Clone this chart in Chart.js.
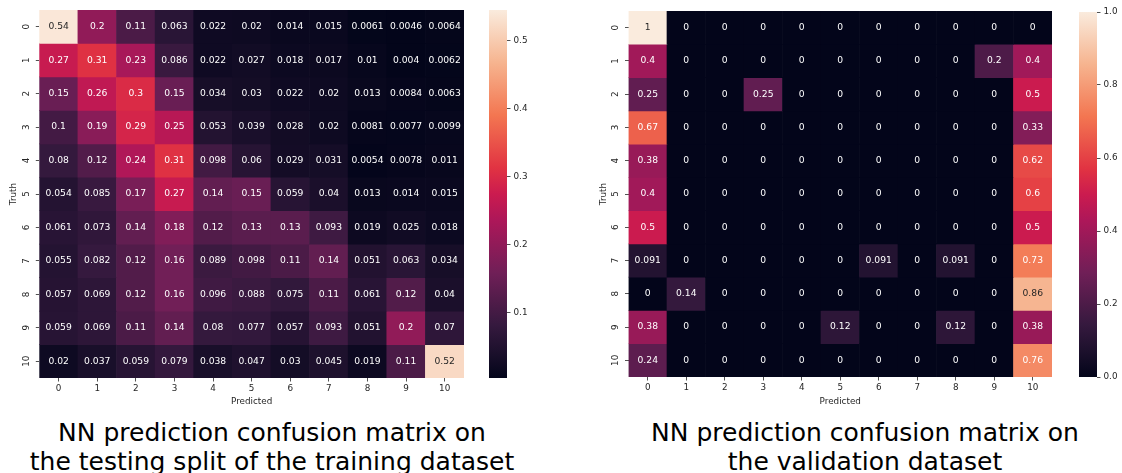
<!DOCTYPE html>
<html>
<head>
<meta charset="utf-8">
<script src="https://cdn.jsdelivr.net/npm/chart.js@4.4.1/dist/chart.umd.min.js"></script>
<style>
  html,body{margin:0;padding:0;background:#fff;}
  body{width:1122px;height:473px;position:relative;overflow:hidden;font-family:"DejaVu Sans",sans-serif;}
  .box{position:absolute;top:0;height:410px;}
  .cap{position:absolute;top:419px;font-size:25px;line-height:28.5px;color:#000;text-align:center;white-space:nowrap;transform:translateX(-50%);}
</style>
</head>
<body>
<div class="box" style="left:0;width:470px"><canvas id="trainCm"></canvas></div>
<div class="box" style="left:480px;width:60px"><canvas id="trainBar"></canvas></div>
<div class="box" style="left:590px;width:470px"><canvas id="validCm"></canvas></div>
<div class="box" style="left:1070px;width:52px"><canvas id="validBar"></canvas></div>
<div class="cap" style="left:272px">NN prediction confusion matrix on<br>the testing split of the training dataset</div>
<div class="cap" style="left:865px">NN prediction confusion matrix on<br>the validation dataset</div>
<script>
const classLabels = ['0','1','2','3','4','5','6','7','8','9','10'];

// rows = truth, columns = predicted
const trainCM = [
  [0.54, 0.2, 0.11, 0.063, 0.022, 0.02, 0.014, 0.015, 0.0061, 0.0046, 0.0064],
  [0.27, 0.31, 0.23, 0.086, 0.022, 0.027, 0.018, 0.017, 0.01, 0.004, 0.0062],
  [0.15, 0.26, 0.3, 0.15, 0.034, 0.03, 0.022, 0.02, 0.013, 0.0084, 0.0063],
  [0.1, 0.19, 0.29, 0.25, 0.053, 0.039, 0.028, 0.02, 0.0081, 0.0077, 0.0099],
  [0.08, 0.12, 0.24, 0.31, 0.098, 0.06, 0.029, 0.031, 0.0054, 0.0078, 0.011],
  [0.054, 0.085, 0.17, 0.27, 0.14, 0.15, 0.059, 0.04, 0.013, 0.014, 0.015],
  [0.061, 0.073, 0.14, 0.18, 0.12, 0.13, 0.13, 0.093, 0.019, 0.025, 0.018],
  [0.055, 0.082, 0.12, 0.16, 0.089, 0.098, 0.11, 0.14, 0.051, 0.063, 0.034],
  [0.057, 0.069, 0.12, 0.16, 0.096, 0.088, 0.075, 0.11, 0.061, 0.12, 0.04],
  [0.059, 0.069, 0.11, 0.14, 0.08, 0.077, 0.057, 0.093, 0.051, 0.2, 0.07],
  [0.02, 0.037, 0.059, 0.079, 0.038, 0.047, 0.03, 0.045, 0.019, 0.11, 0.52]
];
const validCM = [
  [1, 0, 0, 0, 0, 0, 0, 0, 0, 0, 0],
  [0.4, 0, 0, 0, 0, 0, 0, 0, 0, 0.2, 0.4],
  [0.25, 0, 0, 0.25, 0, 0, 0, 0, 0, 0, 0.5],
  [0.67, 0, 0, 0, 0, 0, 0, 0, 0, 0, 0.33],
  [0.38, 0, 0, 0, 0, 0, 0, 0, 0, 0, 0.62],
  [0.4, 0, 0, 0, 0, 0, 0, 0, 0, 0, 0.6],
  [0.5, 0, 0, 0, 0, 0, 0, 0, 0, 0, 0.5],
  [0.091, 0, 0, 0, 0, 0, 0.091, 0, 0.091, 0, 0.73],
  [0, 0.14, 0, 0, 0, 0, 0, 0, 0, 0, 0.86],
  [0.38, 0, 0, 0, 0, 0.12, 0, 0, 0.12, 0, 0.38],
  [0.24, 0, 0, 0, 0, 0, 0, 0, 0, 0, 0.76]
];
const trainRange = [0.004, 0.545];
const validRange = [0, 1];
const trainBarTicks = [0.1, 0.2, 0.3, 0.4, 0.5];
const validBarTicks = [0, 0.2, 0.4, 0.6, 0.8, 1.0];

// seaborn "rocket", a few stops
const rocket = [
  [0.0, [3, 5, 26]],
  [0.07, [28, 16, 44]],
  [0.143, [53, 25, 62]],
  [0.286, [112, 31, 87]],
  [0.429, [173, 23, 89]],
  [0.5, [203, 27, 79]],
  [0.571, [225, 51, 66]],
  [0.714, [243, 118, 81]],
  [0.857, [246, 180, 143]],
  [1.0, [250, 235, 221]]
];

const INK = '#262626';
const FONT = 'DejaVu Sans';

function clamp(x,a,b){ return Math.max(a, Math.min(b,x)); }

function rocketRGB(t){
  t = clamp(t, 0, 1);
  for(let i=1;i<rocket.length;i++){
    if(t <= rocket[i][0]){
      const [t0,c0] = rocket[i-1], [t1,c1] = rocket[i];
      const f = (t - t0) / (t1 - t0);
      return c0.map((c,k) => Math.round(c + (c1[k]-c)*f));
    }
  }
  return rocket[rocket.length-1][1];
}
const rgbStr = c => `rgb(${c[0]},${c[1]},${c[2]})`;

function lum(c){
  const l = c.map(v => { v /= 255; return v <= 0.03928 ? v/12.92 : Math.pow((v+0.055)/1.055, 2.4); });
  return 0.2126*l[0] + 0.7152*l[1] + 0.0722*l[2];
}

function cellText(range){
  return {
    id: 'cellText',
    afterDatasetsDraw(chart){
      const {ctx} = chart;
      ctx.save();
      ctx.font = `9.2px "${FONT}"`;
      ctx.textAlign = 'center';
      ctx.textBaseline = 'middle';
      chart.data.datasets.forEach((ds, r) => {
        chart.getDatasetMeta(r).data.forEach((bar, c) => {
          const v = ds.vals[c];
          const col = rocketRGB((v - range[0]) / (range[1] - range[0]));
          ctx.fillStyle = lum(col) > 0.408 ? INK : '#ffffff';
          ctx.fillText(String(v), bar.x, (bar.y + bar.base) / 2);
        });
      });
      ctx.restore();
    }
  };
}

function heatmap(id, matrix, range, lay){
  const datasets = matrix.map((row, r) => ({
    label: classLabels[r],
    vals: row,
    data: row.map(() => [r, r + 1]),
    backgroundColor: ctx => rgbStr(rocketRGB((row[ctx.dataIndex] - range[0]) / (range[1] - range[0]))),
    borderWidth: 0,
    barPercentage: 1,
    categoryPercentage: 1,
    grouped: false
  }));
  const tickFont = {family: FONT, size: 8.8};
  new Chart(document.getElementById(id), {
    type: 'bar',
    data: {labels: classLabels, datasets},
    plugins: [cellText(range)],
    options: {
      responsive: true, maintainAspectRatio: false, animation: false,
      layout: {padding: {left: 0, top: lay.top, right: lay.right, bottom: 0}},
      plugins: {legend: {display: false}, tooltip: {enabled: false}},
      scales: {
        x: {
          offset: true,
          afterFit: s => { s.height = lay.xh; },
          ticks: {color: INK, font: tickFont, padding: 2.4, maxRotation: 0, autoSkip: false},
          grid: {offset: false, drawOnChartArea: false, tickLength: 3.5, color: INK, lineWidth: 0.8},
          border: {display: false},
          title: {display: true, text: 'Predicted', color: INK, font: tickFont, padding: {top: 0, bottom: 2.9}}
        },
        y: {
          min: 0, max: 11, reverse: true,
          afterBuildTicks: s => { s.ticks = classLabels.map((_, i) => ({value: i + 0.5})); },
          afterFit: s => { s.width = lay.yw; },
          ticks: {callback: v => classLabels[Math.floor(v)], minRotation: 90, maxRotation: 90, crossAlign: 'center',
                  padding: 3.2, color: INK, font: tickFont, autoSkip: false},
          grid: {drawOnChartArea: false, tickLength: 3.5, color: INK, lineWidth: 0.8},
          border: {display: false},
          title: {display: true, text: 'Truth', color: INK, font: tickFont, padding: {top: 8, bottom: 0}}
        }
      }
    }
  });
}

function colorbar(id, range, tickVals, lay){
  new Chart(document.getElementById(id), {
    type: 'bar',
    data: {labels: [''], datasets: [{
      data: [range],
      backgroundColor: ctx => {
        const ys = ctx.chart.scales.y;
        if(!ys) return '#000';
        const p0 = ys.getPixelForValue(range[0]), p1 = ys.getPixelForValue(range[1]);
        if(!isFinite(p0) || !isFinite(p1) || p0 === p1) return '#000';
        const g = ctx.chart.ctx.createLinearGradient(0, p0, 0, p1);
        rocket.forEach(([t, c]) => g.addColorStop(t, rgbStr(c)));
        return g;
      },
      borderWidth: 0, barPercentage: 1, categoryPercentage: 1
    }]},
    options: {
      responsive: true, maintainAspectRatio: false, animation: false,
      layout: {padding: {left: 9, top: lay.top, right: 0, bottom: lay.bottom}},
      plugins: {legend: {display: false}, tooltip: {enabled: false}},
      scales: {
        x: {display: false},
        y: {
          position: 'right', min: range[0], max: range[1],
          afterBuildTicks: s => { s.ticks = tickVals.map(v => ({value: v})); },
          afterFit: s => { s.width = lay.yw; },
          ticks: {callback: v => v.toFixed(1), color: INK, font: {family: FONT, size: 8.8}, padding: 3, autoSkip: false},
          grid: {drawOnChartArea: false, tickLength: 3.5, color: INK, lineWidth: 0.8},
          border: {display: false}
        }
      }
    }
  });
}

heatmap('trainCm', trainCM, trainRange, {top: 10, right: 6, xh: 32, yw: 39.3});
colorbar('trainBar', trainRange, trainBarTicks, {top: 10, bottom: 32, yw: 33});
heatmap('validCm', validCM, validRange, {top: 11, right: 8, xh: 33, yw: 38.5});
colorbar('validBar', validRange, validBarTicks, {top: 12, bottom: 33, yw: 25});
</script>
</body>
</html>
